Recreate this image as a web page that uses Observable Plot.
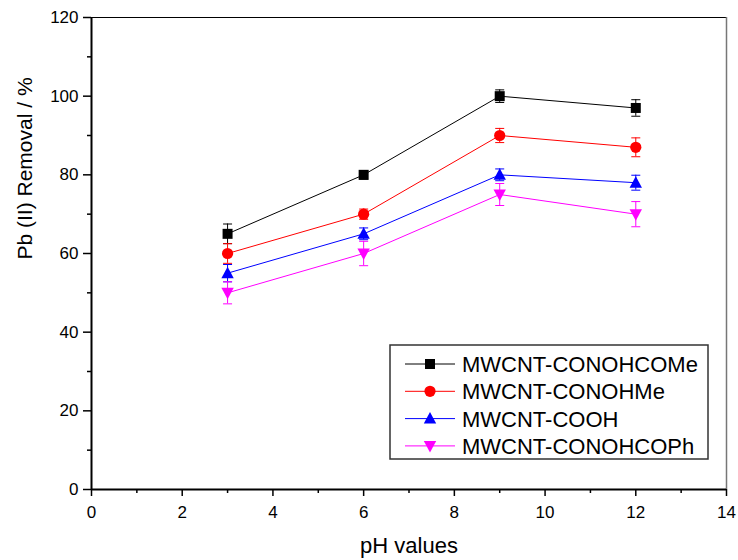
<!DOCTYPE html>
<html>
<head>
<meta charset="utf-8">
<script src="https://cdn.jsdelivr.net/npm/d3@7"></script>
<script src="https://cdn.jsdelivr.net/npm/@observablehq/plot@0.6"></script>
<style>
  html, body { margin: 0; padding: 0; background: #fff; }
  #chart { position: relative; width: 738px; height: 560px; }
  #chart svg { font-family: "Liberation Sans", Arial, sans-serif; }
</style>
</head>
<body>
<div id="chart"></div>
<script>
// pH of each measurement
const pH = [3, 6, 9, 12];

// Pb(II) removal (%) and error for each adsorbent
const removalCONOHCOMe = [65, 80, 100, 97];
const errorCONOHCOMe   = [2.5, 1.1, 1.6, 2.1];
const removalCONOHMe   = [60, 70, 90, 87];
const errorCONOHMe     = [2.5, 1.3, 1.8, 2.4];
const removalCOOH      = [55, 65, 80, 78];
const errorCOOH        = [2.2, 1.5, 1.5, 1.9];
const removalCONOHCOPh = [50, 60, 75, 70];
const errorCONOHCOPh   = [2.8, 3.1, 2.8, 3.2];

const seriesNames  = ["MWCNT-CONOHCOMe", "MWCNT-CONOHMe", "MWCNT-COOH", "MWCNT-CONOHCOPh"];
const seriesColors = ["#000000", "#ff0000", "#0000ff", "#ff00ff"];

// axis ticks
const xTicks = [0, 2, 4, 6, 8, 10, 12, 14];
const xMinorTicks = [1, 3, 5, 7, 9, 11, 13];
const yTicks = [0, 20, 40, 60, 80, 100, 120];
const yMinorTicks = [10, 30, 50, 70, 90, 110];

// marker shapes (size is r²·π, so r is recovered from it)
const rOf = size => Math.sqrt(size / Math.PI);
const square = {draw(ctx, size) { const r = rOf(size); ctx.rect(-r, -r, 2 * r, 2 * r); }};
const circle = {draw(ctx, size) { const r = rOf(size); ctx.moveTo(r, 0); ctx.arc(0, 0, r, 0, 2 * Math.PI); }};
const triangleUp = {draw(ctx, size) {
  const r = rOf(size);
  ctx.moveTo(0, -r * 1.05); ctx.lineTo(r, r * 0.8); ctx.lineTo(-r, r * 0.8); ctx.closePath();
}};
const triangleDown = {draw(ctx, size) {
  const r = rOf(size);
  ctx.moveTo(0, r * 1.05); ctx.lineTo(r, -r * 0.8); ctx.lineTo(-r, -r * 0.8); ctx.closePath();
}};
const cap = {draw(ctx, size) { const r = rOf(size); ctx.moveTo(-r, 0); ctx.lineTo(r, 0); }};

const seriesSymbols = [square, circle, triangleUp, triangleDown];
const seriesRadius  = [5, 5.6, 6.2, 6.2];

const values = [removalCONOHCOMe, removalCONOHMe, removalCOOH, removalCONOHCOPh];
const errors = [errorCONOHCOMe, errorCONOHMe, errorCOOH, errorCONOHCOPh];

const rows = seriesNames.flatMap((name, i) =>
  pH.map((p, j) => ({series: name, pH: p, value: values[i][j], err: errors[i][j]}))
);

const seriesMarks = seriesNames.flatMap((name, i) => {
  const data = rows.filter(d => d.series === name);
  const color = seriesColors[i];
  return [
    Plot.line(data, {x: "pH", y: "value", stroke: color, strokeWidth: 1}),
    Plot.ruleX(data, {x: "pH", y1: d => d.value - d.err, y2: d => d.value + d.err, stroke: color, strokeWidth: 1}),
    Plot.dot(data, {x: "pH", y: d => d.value + d.err, symbol: cap, r: 4.5, stroke: color, fill: "none", strokeWidth: 1}),
    Plot.dot(data, {x: "pH", y: d => d.value - d.err, symbol: cap, r: 4.5, stroke: color, fill: "none", strokeWidth: 1}),
    Plot.dot(data, {x: "pH", y: "value", symbol: seriesSymbols[i], r: seriesRadius[i], fill: color, stroke: "none"})
  ];
});

const chart = Plot.plot({
  width: 738,
  height: 560,
  marginLeft: 91,
  marginRight: 12,
  marginTop: 17,
  marginBottom: 71,
  style: {fontFamily: "Liberation Sans, Arial, sans-serif", background: "#fff"},
  x: {domain: [0, 14]},
  y: {domain: [0, 120]},
  marks: [
    Plot.axisX(xTicks, {tickSize: 7, tickPadding: 9, fontSize: 17, strokeWidth: 1.5, label: null}),
    Plot.axisX(xMinorTicks, {tickSize: 4, text: null, strokeWidth: 1.5, label: null}),
    Plot.axisY(yTicks, {tickSize: 8, tickPadding: 5, fontSize: 17, strokeWidth: 1.5, label: null}),
    Plot.axisY(yMinorTicks, {tickSize: 4, text: null, strokeWidth: 1.5, label: null}),
    Plot.ruleY([120], {stroke: "#000", strokeWidth: 1}),
    Plot.ruleX([14], {stroke: "#777", strokeWidth: 1.5}),
    Plot.ruleX([0], {stroke: "#000", strokeWidth: 2}),
    Plot.ruleY([0], {stroke: "#000", strokeWidth: 2}),
    ...seriesMarks,
    Plot.text(["pH values"], {frameAnchor: "bottom", lineAnchor: "middle", dy: 56, fontSize: 22, fill: "#000"}),
    Plot.text(["Pb (II) Removal / %"], {frameAnchor: "left", lineAnchor: "middle", rotate: -90, dx: -66, dy: 6, fontSize: 21, fill: "#000"})
  ]
});

document.getElementById("chart").appendChild(chart);

// legend box in the lower right of the plot area
const svg = d3.select(chart);
const legend = svg.append("g").attr("transform", "translate(390,345)");
legend.append("rect")
  .attr("x", 0).attr("y", 0).attr("width", 318).attr("height", 114)
  .attr("fill", "#fff").attr("stroke", "#333").attr("stroke-width", 1.5);
seriesNames.forEach((name, i) => {
  const y = 19 + i * 27.3;
  const row = legend.append("g").attr("transform", `translate(0,${y})`);
  row.append("line").attr("x1", 15).attr("x2", 65).attr("y1", 0).attr("y2", 0)
    .attr("stroke", seriesColors[i]).attr("stroke-width", 1);
  row.append("path")
    .attr("transform", "translate(40,0)")
    .attr("d", d3.symbol().type(seriesSymbols[i]).size(Math.PI * seriesRadius[i] ** 2)())
    .attr("fill", seriesColors[i]);
  row.append("text").attr("x", 72).attr("y", 8)
    .attr("text-anchor", "start")
    .attr("font-size", 22).attr("fill", "#000").text(name);
});
</script>
</body>
</html>
